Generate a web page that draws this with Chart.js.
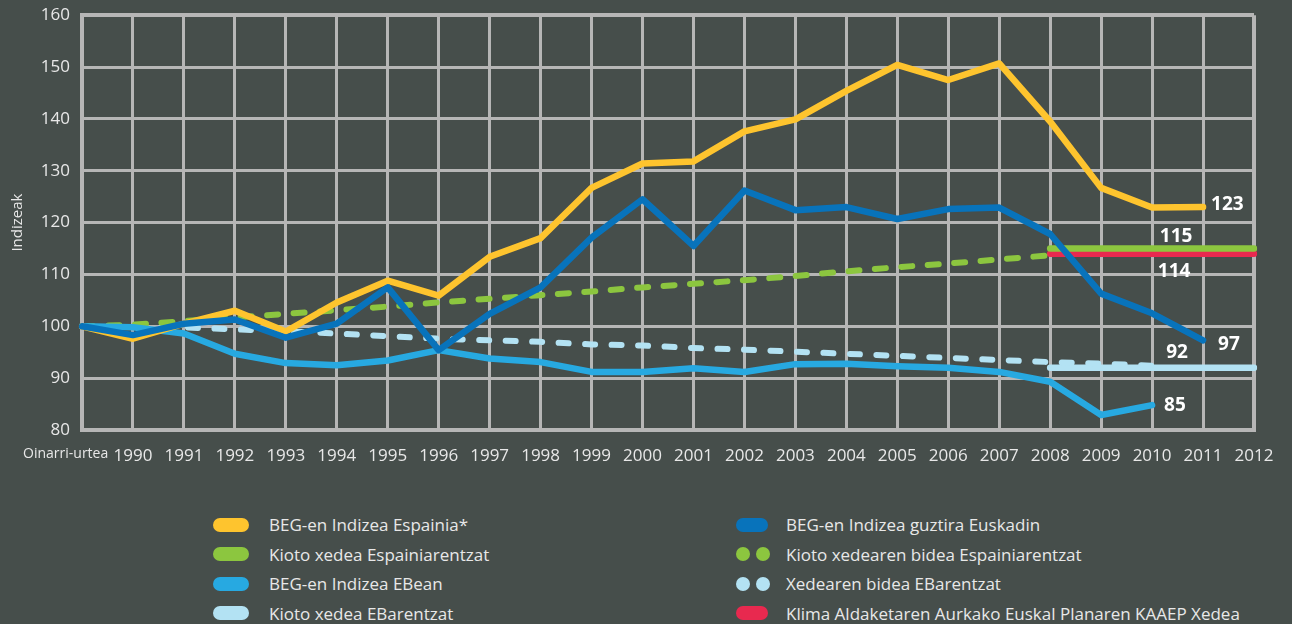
<!DOCTYPE html>
<html>
<head>
<meta charset="utf-8">
<script src="https://cdn.jsdelivr.net/npm/chart.js@4.4.1/dist/chart.umd.min.js"></script>
<style>
  body { margin: 0; background: #464e4b; font-family: 'Open Sans', sans-serif; overflow: hidden; }
  #wrap { position: relative; width: 1292px; height: 624px; overflow: hidden; }
  #chartBox { position: absolute; left: 0; top: -7px; width: 1292px; height: 497px; }
  .legend-col { position: absolute; top: 510px; }
  .legend-item { height: 29.5px; display: flex; align-items: center; color: #e8e8e8; font-size: 17px; white-space: nowrap; }
  .sw { display: inline-block; width: 36px; height: 14px; border-radius: 7px; margin-right: 20px; }
  .dots { display: inline-flex; width: 34px; justify-content: space-between; margin-right: 16px; }
  .dots span { width: 14px; height: 14px; border-radius: 7px; display: inline-block; }
</style>
</head>
<body>
<div id="wrap">
  <div id="chartBox"><canvas id="kiotoChart"></canvas></div>
  <div class="legend-col" id="legendLeft" style="left:213px"></div>
  <div class="legend-col" id="legendRight" style="left:736px"></div>
</div>
<script>
// categories: base year + 1990..2012
var categories = ['Oinarri-urtea', '1990', '1991', '1992', '1993', '1994', '1995', '1996', '1997', '1998',
  '1999', '2000', '2001', '2002', '2003', '2004', '2005', '2006', '2007', '2008', '2009', '2010', '2011', '2012'];

var espainia = [100, 97.6, 100.5, 103.0, 99.0, 104.6, 108.8, 105.9, 113.4, 117.0, 126.7, 131.4,
  131.8, 137.6, 139.9, 145.4, 150.4, 147.5, 150.7, 139.5, 126.7, 122.9, 123.0, null];
var euskadi = [100, 98.3, 100.5, 101.3, 97.8, 100.5, 107.5, 95.4, 102.4, 107.5, 117.1, 124.5,
  115.5, 126.2, 122.4, 123.0, 120.7, 122.6, 122.9, 117.8, 106.3, 102.5, 97.3, null];
var ebean = [100, 99.8, 98.6, 94.7, 92.9, 92.5, 93.4, 95.4, 93.8, 93.1, 91.2, 91.2,
  91.9, 91.2, 92.7, 92.8, 92.3, 92.0, 91.2, 89.3, 82.9, 84.8, null, null];
var bideaEspainia = [100, 100.3, 101.0, 101.7, 102.4, 103.1, 103.8, 104.6, 105.3, 106.0, 106.7, 107.5,
  108.2, 108.9, 109.7, 110.6, 111.4, 112.1, 112.9, 113.7, null, null, null, null];
var bideaEB = [100, 100.1, 99.8, 99.4, 99.1, 98.6, 98.1, 97.6, 97.3, 97.0, 96.5, 96.3,
  95.8, 95.5, 95.1, 94.7, 94.3, 93.9, 93.5, 93.1, 92.8, 92.4, null, null];
var kiotoEspainia = [null, null, null, null, null, null, null, null, null, null, null, null,
  null, null, null, null, null, null, null, 115, 115, 115, 115, 115];
var kiotoEB = [null, null, null, null, null, null, null, null, null, null, null, null,
  null, null, null, null, null, null, null, 92, 92, 92, 92, 92];
var kaaep = [null, null, null, null, null, null, null, null, null, null, null, null,
  null, null, null, null, null, null, null, 114, 114, 114, 114, 114];

var yTicks = [80, 90, 100, 110, 120, 130, 140, 150, 160];

var gridColor = '#b6b6b6';
var textColor = '#e8e8e8';

function line(label, data, color, width, order, extra) {
  var ds = {
    label: label,
    data: data,
    borderColor: color,
    backgroundColor: color,
    borderWidth: width,
    pointRadius: 0,
    borderCapStyle: 'round',
    borderJoinStyle: 'round',
    fill: false,
    tension: 0,
    order: order
  };
  for (var k in extra) ds[k] = extra[k];
  return ds;
}

var datasets = [
  line('BEG-en Indizea Espainia*', espainia, '#fec42e', 6.5, 2, {legendCol: 0}),
  line('Kioto xedea Espainiarentzat', kiotoEspainia, '#8cc63f', 6.5, 6, {legendCol: 0}),
  line('BEG-en Indizea EBean', ebean, '#27a9e1', 6.5, 3, {legendCol: 0}),
  line('Kioto xedea EBarentzat', kiotoEB, '#b3e2f3', 6.5, 7, {legendCol: 0}),
  line('BEG-en Indizea guztira Euskadin', euskadi, '#0873bb', 6.5, 1, {legendCol: 1}),
  line('Kioto xedearen bidea Espainiarentzat', bideaEspainia, '#8cc63f', 6, 4,
    {legendCol: 1, legendDots: true, borderDash: [11, 15.5]}),
  line('Xedearen bidea EBarentzat', bideaEB, '#b3e2f3', 6, 5,
    {legendCol: 1, legendDots: true, borderDash: [10, 16.5]}),
  line('Klima Aldaketaren Aurkako Euskal Planaren KAAEP Xedea', kaaep, '#e8294f', 6.5, 6, {legendCol: 1})
];

// end labels: dataset index, point index, offset, alignment
var endLabels = [
  {ds: 0, i: 22, dx: 8, dy: -2, align: 'left'},
  {ds: 1, i: 21, dx: 24, dy: -12, align: 'center'},
  {ds: 7, i: 21, dx: 22, dy: 18, align: 'center'},
  {ds: 4, i: 22, dx: 15, dy: 4, align: 'left'},
  {ds: 3, i: 21, dx: 25, dy: -15, align: 'center'},
  {ds: 2, i: 21, dx: 12, dy: 0, align: 'left'}
];

var endLabelPlugin = {
  id: 'endLabels',
  afterDatasetsDraw: function(chart) {
    var ctx = chart.ctx;
    var xs = chart.scales.x, ys = chart.scales.y;
    ctx.save();
    ctx.font = 'bold 19px "Open Sans", sans-serif';
    ctx.fillStyle = '#ffffff';
    ctx.textBaseline = 'middle';
    endLabels.forEach(function(l) {
      var v = chart.data.datasets[l.ds].data[l.i];
      ctx.textAlign = l.align;
      ctx.fillText(String(Math.round(v)), xs.getPixelForValue(l.i) + l.dx, ys.getPixelForValue(v) + l.dy);
    });
    ctx.restore();
  }
};

var htmlLegendPlugin = {
  id: 'htmlLegend',
  afterInit: function(chart) {
    var cols = [document.getElementById('legendLeft'), document.getElementById('legendRight')];
    chart.data.datasets.forEach(function(ds) {
      var item = document.createElement('div');
      item.className = 'legend-item';
      var sw;
      if (ds.legendDots) {
        sw = document.createElement('span');
        sw.className = 'dots';
        sw.innerHTML = '<span style="background:' + ds.borderColor + '"></span><span style="background:' + ds.borderColor + '"></span>';
      } else {
        sw = document.createElement('span');
        sw.className = 'sw';
        sw.style.background = ds.borderColor;
        if (ds.legendCol === 1) { sw.style.width = '32px'; sw.style.marginRight = '18px'; }
      }
      item.appendChild(sw);
      item.appendChild(document.createTextNode(ds.label));
      cols[ds.legendCol].appendChild(item);
    });
  }
};

var ctx = document.getElementById('kiotoChart').getContext('2d');
Chart.defaults.font.family = "'Open Sans', sans-serif";

var myChart = new Chart(ctx, {
  type: 'line',
  data: { labels: categories, datasets: datasets },
  plugins: [endLabelPlugin, htmlLegendPlugin],
  options: {
    responsive: true,
    maintainAspectRatio: false,
    animation: false,
    layout: { padding: { top: 7, right: 38, bottom: 20, left: 0 } },
    plugins: { legend: { display: false }, tooltip: { enabled: false } },
    scales: {
      x: {
        type: 'category',
        offset: false,
        grid: {
          color: gridColor,
          lineWidth: function(c) { return c.index === categories.length - 1 ? 4 : 3; },
          drawTicks: false
        },
        border: { display: true, color: gridColor, width: 4 },
        ticks: {
          autoSkip: false,
          maxRotation: 0,
          padding: 16,
          color: textColor,
          font: function(c) { return c.index === 0 ? {size: 14} : {size: 17}; },
          callback: function(val, i) {
            // pad base-year label so it sits left of its grid line
            return i === 0 ? categories[i] + '         ' : categories[i];
          }
        },
        afterFit: function(s) { s.height = 40; }
      },
      y: {
        min: 80,
        max: 160,
        grid: {
          color: gridColor,
          lineWidth: function(c) { return c.index === yTicks.length - 1 ? 4 : 3; },
          drawTicks: false
        },
        border: { display: true, color: gridColor, width: 4 },
        afterBuildTicks: function(s) { s.ticks = yTicks.map(function(v) { return {value: v}; }); },
        ticks: { color: textColor, font: {size: 17}, padding: 12 },
        title: { display: true, text: 'Indizeak', color: textColor, font: {size: 15}, padding: {top: 9, bottom: 0} },
        afterFit: function(s) { s.width = 82; }
      }
    }
  }
});
</script>
</body>
</html>
